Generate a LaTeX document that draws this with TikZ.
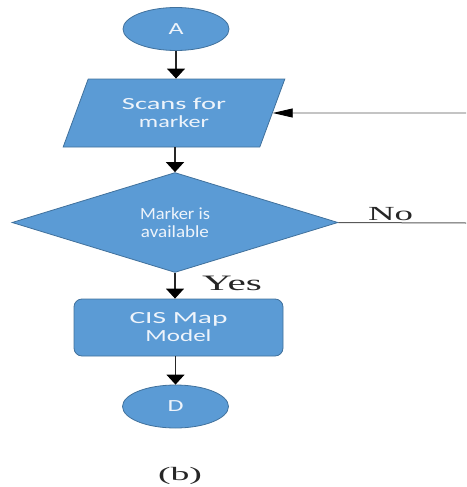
\documentclass[tikz,border=0pt]{standalone}
\usepackage{fontspec}
\setmainfont{Liberation Serif}
\newfontfamily\calib{Carlito}
\usetikzlibrary{shapes.geometric,arrows.meta}
\definecolor{boxfill}{HTML}{5B9BD5}
\definecolor{boxline}{HTML}{41719C}
\definecolor{boxtext}{HTML}{EEF4FB}
\newcommand{\wt}[2]{\resizebox{#1pt}{\height}{#2}}
\begin{document}
\begin{tikzpicture}[x=1pt,y=-1pt,
  shapebase/.style={fill=boxfill,draw=boxline,line width=0.8pt,text=boxtext,
    font=\calib\fontsize{17}{18}\selectfont,align=center,inner sep=0pt},
  term/.style={shapebase,ellipse,minimum width=106pt,minimum height=43pt},
  io/.style={shapebase,trapezium,trapezium left angle=63,trapezium right angle=117,
    trapezium stretches=true,minimum width=222pt,minimum height=68pt},
  decision/.style={shapebase,diamond,minimum width=326pt,minimum height=95pt},
  proc/.style={shapebase,rectangle,rounded corners=8pt,minimum width=209pt,minimum height=57pt},
  flow/.style={-{Triangle[width=18pt,length=10pt,black]},line width=1.2pt,draw=black!85},
  flowh/.style={-{Triangle[width=9pt,length=20pt,black]},line width=0.9pt,draw=black!65},
  side/.style={line width=1pt,draw=black!65},
  lab/.style={text=black!85,inner sep=0pt}]
\useasboundingbox (0,0) rectangle (466,487);
\node[term] (A) at (176,29) {\wt{15}{A}};
\node[io] (par) at (174,113) {\wt{104}{Scans for}\\\wt{70}{marker}};
\node[decision] (dec) at (175,222.5) {\wt{70}{Marker is}\\\wt{68}{available}};
\node[proc] (proc) at (178.5,327.5) {\wt{98}{CIS Map}\\\wt{66}{Model}};
\node[term] (D) at (175.5,406.5) {\wt{16}{D}};
\coordinate (r1) at (466,113);
\coordinate (r2) at (466,223);
\draw[flow] (A.south) -- (A.south |- par.north);
\draw[flow] (par.south -| dec.north) -- (dec.north);
\draw[flow] (dec.south) -- (dec.south |- proc.north);
\draw[flow] (proc.south -| D.north) -- (D.north);
\draw[flowh] (r1) -- (par);
\draw[side] (dec.east) -- (r2);
\node[lab,anchor=base,font=\fontsize{22}{22}\selectfont] (yes) at (232,290) {\wt{60}{Yes}};
\node[lab,anchor=base,font=\fontsize{20}{20}\selectfont] (no) at (390.5,220) {\wt{45}{No}};
\node[lab,font=\fontsize{19}{19}\selectfont] (b) at (180,476) {\wt{44}{(b)}};
\end{tikzpicture}
\end{document}
